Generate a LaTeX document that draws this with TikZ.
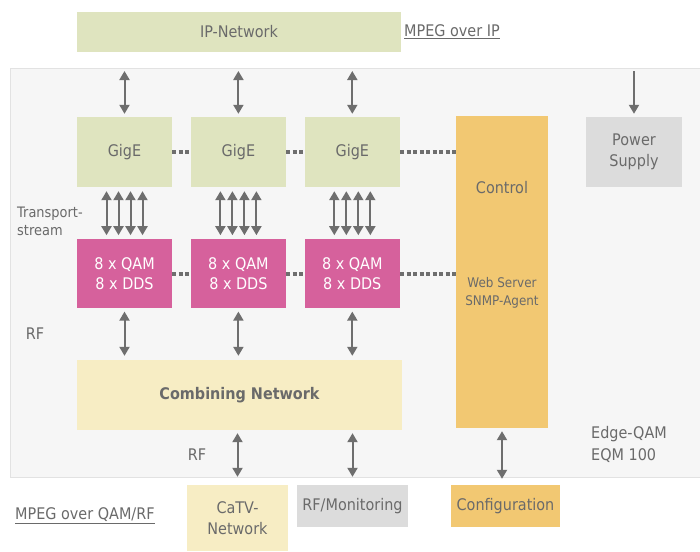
\documentclass[tikz,border=0pt]{standalone}
\usepackage{fontspec}
\setmainfont{DejaVu Sans}[FakeStretch=0.9]
\usetikzlibrary{positioning, arrows.meta}
\definecolor{framegray}{HTML}{F6F6F6}
\definecolor{frameline}{HTML}{E2E2E2}
\definecolor{gigegreen}{HTML}{DFE4BF}
\definecolor{qampink}{HTML}{D6619C}
\definecolor{ctrlorange}{HTML}{F2C872}
\definecolor{combyellow}{HTML}{F7EDC4}
\definecolor{boxgray}{HTML}{DCDCDC}
\definecolor{textgray}{HTML}{6A6A6A}
\definecolor{arrowgray}{HTML}{6E6E6E}
\tikzset{
    block/.style={
        rectangle,
        inner sep=2pt,
        align=center,
        text=textgray,
        font=\fontsize{16}{20.5}\selectfont,
    },
    gige/.style={block, fill=gigegreen, minimum width=95pt, minimum height=70pt},
    qamdds/.style={block, fill=qampink, text=white, minimum width=95pt, minimum height=69pt},
    plain/.style={text=textgray, font=\fontsize{14.4}{18}\selectfont, inner sep=0pt, align=left},
    biglabel/.style={plain, font=\fontsize{16}{22}\selectfont},
    dbl/.style={
        {Triangle[length=9pt,width=10pt]}-{Triangle[length=9pt,width=10pt]},
        line width=2pt, draw=arrowgray, shorten <=3pt, shorten >=3pt,
    },
    sgl/.style={
        -{Triangle[length=9pt,width=10pt]},
        line width=2pt, draw=arrowgray, shorten <=3pt, shorten >=3pt,
    },
    busline/.style={draw=arrowgray, line width=3.5pt, dash pattern=on 4pt off 2.5pt},
}

\begin{document}
\begin{tikzpicture}[x=1pt, y=-1pt, node distance=18.5pt]
        \useasboundingbox (0,0) rectangle (700,551);
        % housing
        \node[draw=frameline, fill=framegray, minimum width=700pt, minimum height=409pt,
              anchor=north west, inner sep=0pt] (eqm) at (10,68) {};
        \node[block, fill=gigegreen, minimum width=324pt, minimum height=40pt] (ip) at (239,32) {IP-Network};
        \node[biglabel, anchor=west] (mpegip) at (404,32) {\underline{MPEG over IP}};
        % gige row
        \node[gige] (g1) at (124.5,152) {GigE};
        \node[gige, right=of g1] (g2) {GigE};
        \node[gige, right=of g2] (g3) {GigE};
        % qam row
        \node[qamdds, below=52pt of g1] (q1) {8 x QAM\\8 x DDS};
        \node[qamdds, below=52pt of g2] (q2) {8 x QAM\\8 x DDS};
        \node[qamdds, below=52pt of g3] (q3) {8 x QAM\\8 x DDS};
        % control and power
        \node[block, fill=ctrlorange, minimum width=92pt, minimum height=312pt] (ctrl) at (502,272) {};
        \node[block] (ctrltop) at ([yshift=-72pt]ctrl.north) {Control};
        \node[block, font=\fontsize{13.3}{18}\selectfont] (agent) at ([yshift=-177pt]ctrl.north) {Web Server\\SNMP-Agent};
        \node[block, fill=boxgray, minimum width=96pt, minimum height=70pt] (power) at (634,152) {Power\\Supply};
        % combining
        \node[block, fill=combyellow, minimum width=325pt, minimum height=70pt,
              font=\fontsize{16}{20}\selectfont\bfseries] (comb) at (239.5,395) {Combining Network};
        % outside
        \node[block, fill=combyellow, minimum width=101pt, minimum height=66pt] (catv) at (237.5,518) {CaTV-\\Network};
        \node[block, fill=boxgray, minimum width=111pt, minimum height=42pt] (rfmon) at (352.5,506) {RF/Monitoring};
        \node[block, fill=ctrlorange, minimum width=109pt, minimum height=42pt] (config) at (505.5,506) {Configuration};
        % labels
        \node[plain, anchor=west] (ts) at (17,221) {Transport-\\stream};
        \node[biglabel] (rf1) at (35,334) {RF};
        \node[biglabel] (rf2) at (197,455) {RF};
        \node[biglabel, anchor=west] (model) at (591,444) {Edge-QAM\\EQM 100};
        \node[biglabel, anchor=west] (mpegrf) at (15,516) {\underline{MPEG over QAM/RF}};
        % ip links
        \draw[dbl] (eqm.north -| g1) to (g1.north);
        \draw[dbl] (eqm.north -| g2) to (g2.north);
        \draw[dbl] (eqm.north -| g3) to (g3.north);
        \draw[sgl] (eqm.north -| power) to (power.north);
        % transport streams
        \foreach \i in {1,2,3}
          \foreach \dx in {-18,-6,6,18}
            \draw[dbl, shorten <=4pt, shorten >=4pt] ([xshift=\dx pt]g\i.south) to ([xshift=\dx pt]q\i.north);
        % rf to combiner
        \foreach \i in {1,2,3}
          \draw[dbl, shorten >=4pt] (q\i.south) to (q\i.south |- comb.north);
        % bus to control
        \draw[busline] (g1.east) to (g2.west);
        \draw[busline] (g2.east) to (g3.west);
        \draw[busline] (g3.east) to (g3.east -| ctrl.west);
        \draw[busline] (q1.east) to (q2.west);
        \draw[busline] (q2.east) to (q3.west);
        \draw[busline] (q3.east) to (q3.east -| ctrl.west);
        % outside links
        \draw[dbl, shorten >=8pt] (comb.south -| catv) to (catv.north);
        \draw[dbl, shorten >=8pt] (comb.south -| rfmon) to (rfmon.north);
        \draw[dbl, shorten >=6pt] (ctrl.south) to (ctrl.south |- config.north);
\end{tikzpicture}
\end{document}
